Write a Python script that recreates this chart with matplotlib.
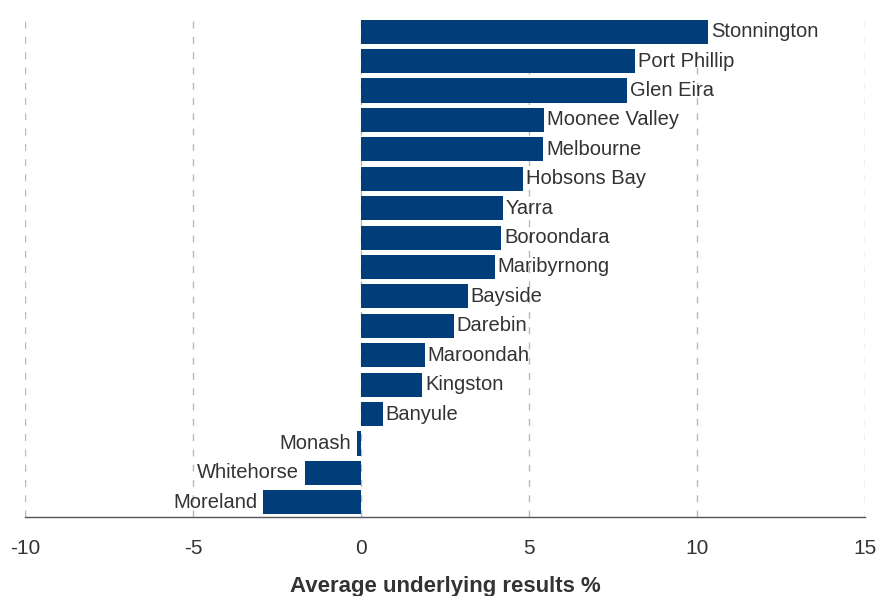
import matplotlib
matplotlib.use("Agg")
import matplotlib.pyplot as plt

# councils listed bottom to top
councils = ["Moreland", "Whitehorse", "Monash", "Banyule", "Kingston", "Maroondah",
            "Darebin", "Bayside", "Maribyrnong", "Boroondara", "Yarra", "Hobsons Bay",
            "Melbourne", "Moonee Valley", "Glen Eira", "Port Phillip", "Stonnington"]
results = [-2.92, -1.67, -0.12, 0.65, 1.82, 1.90,
           2.77, 3.18, 3.99, 4.17, 4.23, 4.82,
           5.42, 5.45, 7.92, 8.15, 10.33]
xticks = [-10, -5, 0, 5, 10, 15]

plt.rcParams['font.family'] = ['Liberation Sans', 'DejaVu Sans']

fig = plt.figure(figsize=(8.79, 5.96), dpi=100)
ax = fig.add_axes([25 / 879, 79 / 596, 840 / 879, 500 / 596])

bar_color = "#003d79"
text_color = "#333333"

ypos = list(range(len(councils)))
ax.barh(ypos, results, height=0.82, color=bar_color, zorder=3)

for y, v, name in zip(ypos, results, councils):
    if v >= 0:
        ax.annotate(name, (v, y), xytext=(2, 0), textcoords="offset points",
                    ha="left", va="center", fontsize=14.5, color=text_color, zorder=4)
    else:
        ax.annotate(name, (v, y), xytext=(-4, 0), textcoords="offset points",
                    ha="right", va="center", fontsize=14.5, color=text_color, zorder=4)

ax.set_xlim(-10, 15)
ax.set_ylim(-0.5, len(councils) - 0.5)
ax.set_xticks(xticks)
ax.set_xticklabels([str(t) for t in xticks])
ax.set_yticks([])

for t in xticks:
    ax.axvline(t, color="#b8b8b8", linewidth=1, dashes=(5, 6), zorder=1)

for side in ["left", "right", "top"]:
    ax.spines[side].set_visible(False)
ax.spines["bottom"].set_color("#555555")
ax.spines["bottom"].set_linewidth(1)

ax.tick_params(axis="x", length=0, pad=16, labelsize=15, labelcolor=text_color)
ax.set_xlabel("Average underlying results %", fontsize=16, fontweight="bold",
              color=text_color, labelpad=13)

fig.savefig("out.png", dpi=100)
